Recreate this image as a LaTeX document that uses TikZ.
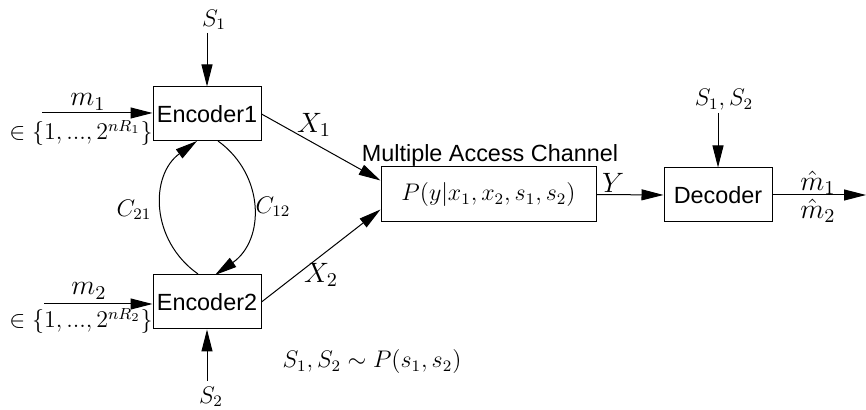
\RequirePackage{fix-cm}
\documentclass[tikz,border=0pt]{standalone}
\usepackage{fontspec}
\setsansfont{Liberation Sans}
\usetikzlibrary{arrows.meta,calc}
\tikzset{
  blk/.style={draw, line width=0.5pt, inner sep=0pt, font=\sffamily\fontsize{11.7}{13}\selectfont},
  arr/.style={line width=0.5pt, -{Triangle[length=11pt,width=5.5pt]}},
  lbl/.style={inner sep=0pt, font=\fontsize{12}{14}\selectfont},
  biglbl/.style={inner sep=0pt, font=\fontsize{14}{16}\selectfont},
}
\begin{document}
\begin{tikzpicture}[x=0.5pt,y=-0.5pt]
\useasboundingbox (0,0) rectangle (866,410);
% blocks
\node[blk, minimum width=54pt, minimum height=27pt] (enc1) at (207,114) {Encoder1};
\node[blk, minimum width=54pt, minimum height=27pt] (enc2) at (207,302) {Encoder2};
\node[blk, minimum width=107.5pt, minimum height=27.5pt, font=\fontsize{12}{14}\selectfont] (mac) at (488.5,194.5) {$P(y|x_1,x_2,s_1,s_2)$};
\node[blk, minimum width=54pt, minimum height=27pt] (dec) at (718,195) {Decoder};
\node[inner sep=0pt, anchor=base, font=\sffamily\fontsize{11.7}{13}\selectfont] (mactitle) at (490,162) {Multiple Access Channel};
% labels
\node[lbl] (s1lab) at (214,20) {$S_1$};
\node[lbl] (s2lab) at (211,397) {$S_2$};
\node[lbl] (sdlab) at (724,100) {$S_1,S_2$};
\node[biglbl] (m1lab) at (88,102) {$m_1$};
\node[lbl] (set1) at (81,133) {$\in\{1,...,2^{nR_1}\}$};
\node[biglbl] (m2lab) at (89,291) {$m_2$};
\node[lbl] (set2) at (81,321) {$\in\{1,...,2^{nR_2}\}$};
\node[lbl] (c21) at (134,210) {$C_{21}$};
\node[lbl] (c12) at (273,207) {$C_{12}$};
\node[biglbl] (x1lab) at (314,125) {$X_1$};
\node[biglbl] (x2lab) at (321,275) {$X_2$};
\node[biglbl] (ylab) at (613,183) {$Y$};
\node[biglbl] (mh1) at (818,183) {$\hat m_1$};
\node[biglbl] (mh2) at (818,211) {$\hat m_2$};
\node[lbl] (dist) at (372,362) {$S_1,S_2\sim P(s_1,s_2)$};
% free ends
\coordinate (s1tail) at (207,33);
\coordinate (s2tail) at (207,381);
\coordinate (sdtail) at (718,113);
\coordinate (m1tail) at (42,113);
\coordinate (m2tail) at (44,304);
\coordinate (outtip) at (866,195);
\coordinate (c21s) at (198,274);
\coordinate (c21e) at (197,141);
\coordinate (c12s) at (218,141);
\coordinate (c12e) at (215,275);
% connectors
\draw[arr] (s1tail) -- (enc1.north);
\draw[arr] (s2tail) -- (enc2.south);
\draw[arr] (sdtail) -- (dec.north);
\draw[arr] (m1tail) -- (m1tail -| enc1.west);
\draw[arr] (m2tail) -- (m2tail -| enc2.west);
\draw[arr] (enc1.east) -- ($(mac.west)+(0,-14)$);
\draw[arr] (enc2.east) -- ($(mac.west)+(0,15)$);
\draw[arr] (mac.east) -- (dec.west);
\draw[arr] (dec.east) -- (outtip);
\draw[arr] (c21s) .. controls (150,240) and (150,175) .. (c21e);
\draw[arr] (c12s) .. controls (265,175) and (265,240) .. (c12e);
\end{tikzpicture}
\end{document}
